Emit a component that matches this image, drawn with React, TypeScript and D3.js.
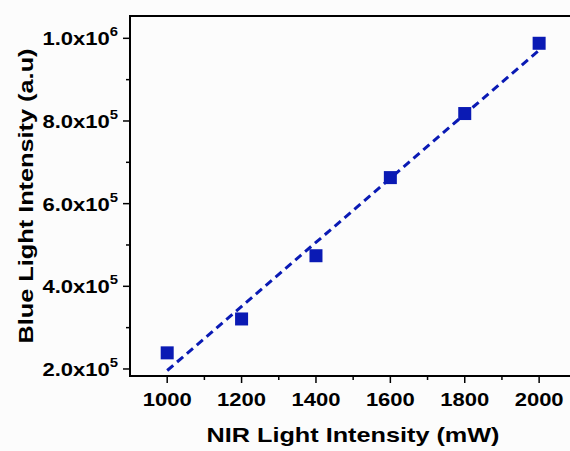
import React, { useEffect, useRef } from 'react';
import * as d3 from 'd3';

// NIR power (mW) vs. blue emission (a.u.)
const nirPower = [1000, 1200, 1400, 1600, 1800, 2000];
const blueIntensity = [2.39e5, 3.21e5, 4.74e5, 6.63e5, 8.18e5, 9.88e5];
const xTicks = [1000, 1200, 1400, 1600, 1800, 2000];
const yTicks = [2e5, 4e5, 6e5, 8e5, 1e6];

const W = 570;
const H = 451;
const blue = '#0a1ab4';
const font = '"Liberation Sans", Arial, sans-serif';
const stretch = 1.19; // the source font is wider than Arial

export default function App() {
  const ref = useRef<SVGSVGElement>(null);

  useEffect(() => {
    const svg = d3.select(ref.current);
    svg.selectAll('*').remove();

    const left = 130, top = 16, right = 570, bottom = 376;
    const x = d3.scaleLinear().domain([900, 2083]).range([left, right]);
    const y = d3.scaleLinear().domain([1.83e5, 1.054e6]).range([bottom, top]);

    svg.append('rect').attr('width', W).attr('height', H).attr('fill', '#fcfcfc');

    // frame: top + left + bottom lines
    svg.append('path')
      .attr('d', `M${right},${top}H${left}V${bottom}H${right}`)
      .attr('fill', 'none')
      .attr('stroke', '#000')
      .attr('stroke-width', 2);

    // x axis ticks
    const xMinor = d3.range(1100, 2001, 200);
    const xg = svg.append('g');
    xg.selectAll('line.maj').data(xTicks).enter().append('line')
      .attr('x1', (d) => x(d)).attr('x2', (d) => x(d))
      .attr('y1', bottom).attr('y2', bottom + 7)
      .attr('stroke', '#000').attr('stroke-width', 1.5);
    xg.selectAll('line.min').data(xMinor).enter().append('line')
      .attr('x1', (d) => x(d)).attr('x2', (d) => x(d))
      .attr('y1', bottom).attr('y2', bottom + 4)
      .attr('stroke', '#000').attr('stroke-width', 1.5);
    xg.selectAll('text').data(xTicks).enter().append('text')
      .attr('transform', (d) => `translate(${x(d)},406) scale(${stretch},1)`)
      .attr('text-anchor', 'middle')
      .attr('font-family', font).attr('font-weight', 'bold').attr('font-size', 18.5)
      .text((d) => d);

    // y axis ticks
    const yMinor = [3e5, 5e5, 7e5, 9e5];
    const yg = svg.append('g');
    yg.selectAll('line.maj').data(yTicks).enter().append('line')
      .attr('y1', (d) => y(d)).attr('y2', (d) => y(d))
      .attr('x1', left).attr('x2', left - 7)
      .attr('stroke', '#000').attr('stroke-width', 1.5);
    yg.selectAll('line.min').data(yMinor).enter().append('line')
      .attr('y1', (d) => y(d)).attr('y2', (d) => y(d))
      .attr('x1', left).attr('x2', left - 4)
      .attr('stroke', '#000').attr('stroke-width', 1.5);
    const yl = yg.selectAll('text').data(yTicks).enter().append('text')
      .attr('transform', (d) => `translate(118,${y(d) + 7}) scale(${stretch},1)`)
      .attr('text-anchor', 'end')
      .attr('font-family', font).attr('font-weight', 'bold').attr('font-size', 18.5);
    yl.append('tspan').text((d) => {
      const e = Math.floor(Math.log10(d));
      return (d / Math.pow(10, e)).toFixed(1) + 'x10';
    });
    yl.append('tspan')
      .attr('dy', -9).attr('font-size', 12.5)
      .text((d) => Math.floor(Math.log10(d)));

    // linear fit
    const mx = d3.mean(nirPower)!;
    const my = d3.mean(blueIntensity)!;
    const slope = d3.sum(nirPower, (v, i) => (v - mx) * (blueIntensity[i] - my)) /
      d3.sum(nirPower, (v) => (v - mx) * (v - mx));
    const fit = (v: number) => my + slope * (v - mx);
    const fitX = [nirPower[0], nirPower[nirPower.length - 1]];
    svg.append('path')
      .attr('d', d3.line<number>().x((d) => x(d)).y((d) => y(fit(d)))(fitX))
      .attr('fill', 'none')
      .attr('stroke', blue)
      .attr('stroke-width', 3)
      .attr('stroke-dasharray', '8,5');

    // points
    const s = 13;
    svg.selectAll('rect.pt').data(nirPower).enter().append('rect')
      .attr('x', (d) => x(d) - s / 2)
      .attr('y', (d, i) => y(blueIntensity[i]) - s / 2)
      .attr('width', s).attr('height', s)
      .attr('fill', blue);

    // titles
    svg.append('text')
      .attr('x', 353).attr('y', 442)
      .attr('text-anchor', 'middle')
      .attr('textLength', 293).attr('lengthAdjust', 'spacingAndGlyphs')
      .attr('font-family', font).attr('font-weight', 'bold').attr('font-size', 21)
      .text('NIR Light Intensity (mW)');
    svg.append('text')
      .attr('transform', 'translate(33,196) rotate(-90)')
      .attr('text-anchor', 'middle')
      .attr('textLength', 295).attr('lengthAdjust', 'spacingAndGlyphs')
      .attr('font-family', font).attr('font-weight', 'bold').attr('font-size', 21)
      .text('Blue Light Intensity (a.u)');
  }, []);

  return (
    <svg ref={ref} width={W} height={H}
      style={{ position: 'absolute', left: 0, top: 0, display: 'block' }} />
  );
}
